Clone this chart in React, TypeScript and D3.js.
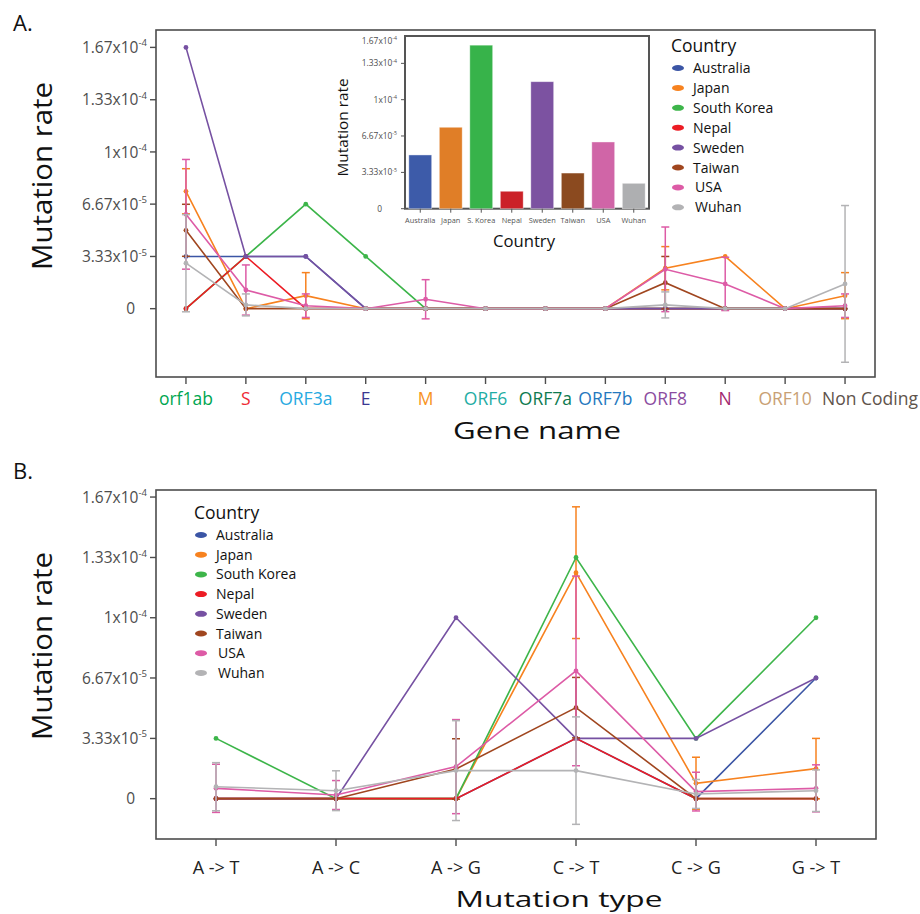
import React from 'react';
import * as d3 from 'd3';

const FONT = "'Open Sans', 'Noto Sans', sans-serif";
const AXIS = '#4d4d4d';

const countries = ['Australia', 'Japan', 'South Korea', 'Nepal', 'Sweden', 'Taiwan', 'USA', 'Wuhan'];
const countryColors = ['#3b55a5', '#f7821f', '#3db54a', '#ec1c24', '#7651a2', '#a0461f', '#dd5ba6', '#b3b3b5'];

// all rates below are in units of 1e-5
const yTicks = [0, 3.33, 6.67, 10, 13.33, 16.67];
const yTickBase = ['0', '3.33x10', '6.67x10', '1x10', '1.33x10', '1.67x10'];
const yTickExp = ['', '-5', '-5', '-4', '-4', '-4'];

// panel A: per gene
const genes = ['orf1ab', 'S', 'ORF3a', 'E', 'M', 'ORF6', 'ORF7a', 'ORF7b', 'ORF8', 'N', 'ORF10', 'Non Coding'];
const geneColors = ['#00a650', '#ee2a35', '#27aae1', '#3a3792', '#f7941d', '#1fada4', '#0e7a4f', '#2478be', '#8b4ca0', '#a3286e', '#c8a074', '#5e534b'];

const australiaGene = [3.33, 3.33, 3.33, 0, 0, 0, 0, 0, 0, 0, 0, 0];
const japanGene = [7.49, 0, 0.83, 0, 0, 0, 0, 0, 2.58, 3.33, 0, 0.83];
const koreaGene = [0, 3.33, 6.67, 3.33, 0, 0, 0, 0, 0, 0, 0, 0];
const nepalGene = [0, 3.33, 0, 0, 0, 0, 0, 0, 0, 0, 0, 0];
const swedenGene = [16.67, 3.33, 3.33, 0, 0, 0, 0, 0, 0, 0, 0, 0];
const taiwanGene = [5.0, 0, 0, 0, 0, 0, 0, 0, 1.66, 0, 0, 0];
const usaGene = [6.02, 1.19, 0.19, 0, 0.6, 0, 0, 0, 2.51, 1.58, 0, 0.19];
const wuhanGene = [2.9, 0.24, 0, 0, 0, 0, 0, 0, 0.24, 0, 0, 1.58];

const japanGeneErr = [1.44, 0, 1.47, 0, 0, 0, 0, 0, 1.38, 0, 0, 1.47];
const taiwanGeneErr = [1.66, 0, 0, 0, 0, 0, 0, 0, 1.67, 0, 0, 0];
const usaGeneErr = [3.5, 1.6, 0.75, 0, 1.25, 0, 0, 0, 2.7, 1.7, 0, 0.75];
const wuhanGeneErr = [3.1, 0.7, 0, 0, 0, 0, 0, 0, 0.83, 0, 0, 5.0];

// panel B: per mutation type
const mutTypes = ['A -> T', 'A -> C', 'A -> G', 'C -> T', 'C -> G', 'G -> T'];

const australiaMut = [0, 0, 0, 3.33, 0, 6.67];
const japanMut = [0, 0, 0, 12.49, 0.85, 1.66];
const koreaMut = [3.33, 0, 0, 13.33, 3.33, 10];
const nepalMut = [0, 0, 0, 3.33, 0, 0];
const swedenMut = [0, 0, 10, 3.33, 3.33, 6.67];
const taiwanMut = [0, 0, 1.64, 5.03, 0, 0];
const usaMut = [0.57, 0.2, 1.77, 7.06, 0.39, 0.57];
const wuhanMut = [0.66, 0.44, 1.55, 1.55, 0.26, 0.44];

const japanMutErr = [0, 0, 0, 3.64, 1.44, 1.67];
const taiwanMutErr = [0, 0, 1.67, 1.67, 0, 0];
const usaMutErr = [1.33, 0.8, 2.6, 5.24, 1.07, 1.3];
const wuhanMutErr = [1.33, 1.1, 2.76, 2.97, 0.8, 1.15];

// inset: overall rate per country
const insetLabels = ['Australia', 'Japan', 'S. Korea', 'Nepal', 'Sweden', 'Taiwan', 'USA', 'Wuhan'];
const insetRates = [4.93, 7.47, 15.0, 1.6, 11.65, 3.27, 6.12, 2.33];
const insetColors = ['#3d5ba9', '#e07e27', '#37b34a', '#cb2128', '#7c52a1', '#8b4a1f', '#d065a7', '#aeafb1'];
const insetTicks = [0, 3.33, 6.67, 10, 13.33, 15.4];

const geneSeries = [australiaGene, japanGene, koreaGene, nepalGene, swedenGene, taiwanGene, usaGene, wuhanGene];
const geneErrors = [null, japanGeneErr, null, null, null, taiwanGeneErr, usaGeneErr, wuhanGeneErr];
const mutSeries = [australiaMut, japanMut, koreaMut, nepalMut, swedenMut, taiwanMut, usaMut, wuhanMut];
const mutErrors = [null, japanMutErr, null, null, null, taiwanMutErr, usaMutErr, wuhanMutErr];

function TickLabel({ x, y, i, size, zeroShift }) {
    // the "0" label sits a little left of the others in the original
    const lx = i === 0 ? x - zeroShift : x;
    return (
        <text x={lx} y={y} dy="0.36em" textAnchor="end" fontSize={size} fill={AXIS} fontFamily={FONT}>
            {yTickBase[i]}
            {yTickExp[i] && <tspan fontSize={size * 0.62} dy={-size * 0.42}>{yTickExp[i]}</tspan>}
        </text>
    );
}

function Legend({ x, y, step }) {
    return (
        <g fontFamily={FONT}>
            <text x={x - 2} y={y} fontSize={17.5} fill="#111">Country</text>
            {countries.map((c, i) => (
                <g key={c}>
                    <ellipse cx={x + 5} cy={y + 16 + i * step} rx={6} ry={3} fill={countryColors[i]} />
                    <text x={x + 20 + (i > 5 ? 2 : 0)} y={y + 16 + i * step} dy="0.36em" fontSize={14} fill="#111">{c}</text>
                </g>
            ))}
        </g>
    );
}

function LinePanel(props) {
    const { cats, catColors, series, errors, box, yDomain, labelY, labelSize, shiftLast } = props;
    const x = d3.scalePoint().domain(cats).range([box.left, box.right]).padding(0.5);
    const y = d3.scaleLinear().domain(yDomain).range([box.bottom, box.top]);
    const line = d3.line().x((d, i) => x(cats[i])).y(d => y(d));

    return (
        <g>
            <rect x={box.left} y={box.top} width={box.right - box.left} height={box.bottom - box.top}
                fill="none" stroke={AXIS} strokeWidth={1.6} />
            {yTicks.map((t, i) => (
                <g key={t}>
                    <line x1={box.left - 6} x2={box.left} y1={y(t)} y2={y(t)} stroke={AXIS} strokeWidth={1.4} />
                    <TickLabel x={box.left - 9} y={y(t)} i={i} size={15.5} zeroShift={12} />
                </g>
            ))}
            {cats.map((c, i) => {
                const last = shiftLast && i === cats.length - 1;
                return (
                    <g key={c}>
                        <line x1={x(c)} x2={x(c)} y1={box.bottom} y2={box.bottom + 7} stroke={AXIS} strokeWidth={1.4} />
                        <text x={last ? x(c) - 23 : x(c)} y={labelY} textAnchor={last ? 'start' : 'middle'}
                            fontSize={labelSize} fontFamily={FONT}
                            fill={catColors ? catColors[i] : '#222'}>{c}</text>
                    </g>
                );
            })}
            {series.map((s, k) => (
                <g key={k} stroke={countryColors[k]} fill={countryColors[k]}>
                    <path d={line(s)} fill="none" strokeWidth={1.6} />
                    {errors[k] && s.map((v, i) => errors[k][i] > 0 && (
                        <g key={i} strokeWidth={1.5}>
                            <line x1={x(cats[i])} x2={x(cats[i])} y1={y(v - errors[k][i])} y2={y(v + errors[k][i])} />
                            <line x1={x(cats[i]) - 4} x2={x(cats[i]) + 4} y1={y(v - errors[k][i])} y2={y(v - errors[k][i])} />
                            <line x1={x(cats[i]) - 4} x2={x(cats[i]) + 4} y1={y(v + errors[k][i])} y2={y(v + errors[k][i])} />
                        </g>
                    ))}
                    {s.map((v, i) => <circle key={i} cx={x(cats[i])} cy={y(v)} r={2.4} stroke="none" />)}
                </g>
            ))}
        </g>
    );
}

function Inset() {
    const box = { left: 405, right: 649, top: 36, bottom: 208.7 };
    const x = d3.scaleBand().domain(insetLabels).range([box.left, box.right]).paddingInner(0.25).paddingOuter(0.125);
    const y = d3.scaleLinear().domain([0, 15.84]).range([box.bottom, box.top]);
    return (
        <g fontFamily={FONT}>
            <rect x={box.left} y={box.top} width={box.right - box.left} height={box.bottom - box.top}
                fill="#fff" stroke="#555" strokeWidth={2} />
            {insetLabels.map((c, i) => (
                <g key={c}>
                    <rect x={x(c)} y={y(insetRates[i])} width={x.bandwidth()} height={y(0) - y(insetRates[i])}
                        fill={insetColors[i]} stroke="#fff" strokeOpacity={0.5} strokeWidth={0.8} />
                    <line x1={x(c) + x.bandwidth() / 2} x2={x(c) + x.bandwidth() / 2} y1={box.bottom} y2={box.bottom + 4}
                        stroke="#555" strokeWidth={1} />
                    <text x={x(c) + x.bandwidth() / 2} y={223} textAnchor="middle" fontSize={7.4} fill="#555">{c}</text>
                </g>
            ))}
            {insetTicks.map((t, i) => (
                <g key={t}>
                    {i < insetTicks.length - 1 &&
                        <line x1={box.left - 4} x2={box.left} y1={y(t)} y2={y(t)} stroke="#555" strokeWidth={1} />}
                    <TickLabel x={box.left - 8} y={y(t)} i={i} size={8.4} zeroShift={15} />
                </g>
            ))}
            <text x={524} y={246.5} textAnchor="middle" fontSize={16} fill="#111" textLength={62}
                lengthAdjust="spacingAndGlyphs">Country</text>
            <text transform="translate(348,127.5) rotate(-90)" textAnchor="middle" fontSize={15} fill="#111"
                textLength={98} lengthAdjust="spacingAndGlyphs">Mutation rate</text>
        </g>
    );
}

export default function App() {
    const boxA = { left: 156, right: 875, top: 30, bottom: 377 };
    const boxB = { left: 156, right: 876, top: 490, bottom: 839 };
    return (
        <svg width={920} height={914} style={{ position: 'absolute', left: 0, top: 0, background: '#fff' }}>
            <text x={13} y={31} fontSize={22} fontFamily={FONT} fill="#111">A.</text>
            <text x={13} y={479} fontSize={22} fontFamily={FONT} fill="#111">B.</text>

            <LinePanel cats={genes} catColors={geneColors} series={geneSeries} errors={geneErrors}
                box={boxA} yDomain={[-4.36, 17.78]} labelY={405} labelSize={17.5} shiftLast />
            <Inset />
            <Legend x={673} y={52} step={19.9} />
            <text transform="translate(52,176) rotate(-90)" textAnchor="middle" fontSize={28} fontFamily={FONT}
                fill="#111" textLength={188} lengthAdjust="spacingAndGlyphs">Mutation rate</text>
            <text x={537} y={439} textAnchor="middle" fontSize={24} fontFamily={FONT} fill="#111"
                textLength={168} lengthAdjust="spacingAndGlyphs">Gene name</text>

            <LinePanel cats={mutTypes} series={mutSeries} errors={mutErrors}
                box={boxB} yDomain={[-2.23, 17.06]} labelY={874} labelSize={18} />
            <Legend x={196} y={519} step={19.7} />
            <text transform="translate(52,646) rotate(-90)" textAnchor="middle" fontSize={28} fontFamily={FONT}
                fill="#111" textLength={188} lengthAdjust="spacingAndGlyphs">Mutation rate</text>
            <text x={559} y={907} textAnchor="middle" fontSize={22} fontFamily={FONT} fill="#111"
                textLength={207} lengthAdjust="spacingAndGlyphs">Mutation type</text>
        </svg>
    );
}
